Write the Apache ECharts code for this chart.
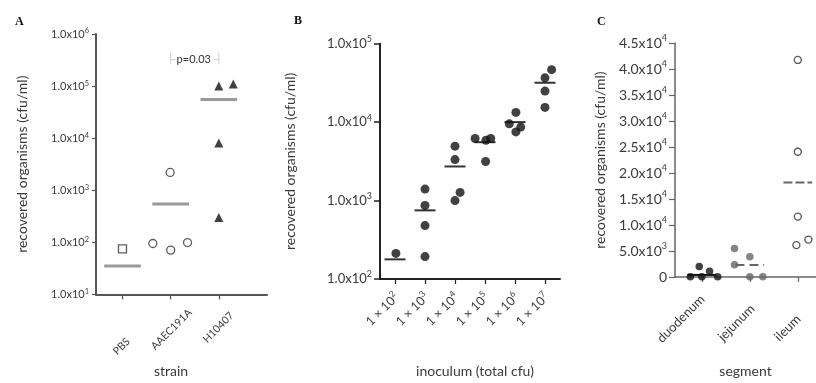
<!DOCTYPE html>
<html><head><meta charset="utf-8">
<script src="https://cdn.jsdelivr.net/npm/echarts@6.0.0/dist/echarts.min.js"></script>
<style>html,body{margin:0;padding:0;background:#fff}#c{width:816px;height:383px}</style>
</head><body><div id="c"></div>
<script>
// ---------------- DATA ----------------
// Panel A : strain
const strainCategories = ['PBS', 'AAEC191A', 'H10407'];
const pbsX = [1.0];
const pbsValues = [75];
const aaecX = [1.63, 2.0, 2.35, 1.99];
const aaecValues = [95, 71, 99, 2200];
const h10407X = [3.0, 3.3, 3.0, 3.0];
const h10407Values = [100000, 110000, 8100, 300];
const strainMeans = [35, 545, 55000];
const pValueText = 'p=0.03';
const pBracketX = [2, 3];
const pBracketY = [4.4e5, 3.2e5, 2.6e5];

// Panel B : inoculum
const inoculumExponents = [2, 3, 4, 5, 6, 7];
const inoculumX = [[1.03], [2, 2, 2, 2], [3, 3, 3, 3.17], [3.67, 4.03, 4.19, 4.02], [5.03, 4.81, 5.19, 5.03], [6.22, 6, 6, 6]];
const inoculumValues = [[212], [1400, 865, 480, 193], [4940, 3330, 1000, 1270], [6180, 5880, 6180, 3150], [13300, 9520, 8650, 7500], [46700, 36700, 24900, 15400]];
const inoculumMeans = [178, 750, 2720, 5550, 10000, 31800];

// Panel C : segment
const segmentCategories = ['duodenum', 'jejunum', 'ileum'];
const duodenumX = [0.76, 0.945, 1.0, 1.16, 1.33];
const duodenumValues = [50, 2000, 50, 1100, 50];
const jejunumX = [1.68, 1.68, 2.0, 2.0, 2.27];
const jejunumValues = [5490, 2350, 3920, 50, 50];
const ileumX = [3.0, 3.0, 3.0, 2.97, 3.22];
const ileumValues = [41800, 24130, 11630, 6140, 7200];
const segmentMeans = [400, 2300, 18200];

// ---------------- STYLE / LAYOUT ----------------
const FONT = 'Lato';
const TXT = '#3a3a3a';
const C45 = Math.SQRT1_2;
// label centre offset (dx,dy) from tick/axis -> padding for centred 45deg label
function padFor(dx, dy) {
  const a = (dx - dy) / (2 * C45), b = (dx + dy) / (2 * C45);
  return [b > 0 ? 2 * b : 0, a < 0 ? -2 * a : 0, b < 0 ? -2 * b : 0, a > 0 ? 2 * a : 0];
}
const aLabelOffsets = [[-1, 52], [0.8, 35], [-0.5, 33]];
const cLabelOffsets = [[-21, 41.8], [-13.4, 45.8], [-10.2, 51]];
const bLabelOffset = [-12.5, 30.5];

function zip(xs, ys) { return xs.map((x, i) => [x, ys[i]]); }
function sciLabel(v) {
  if (v === 0) return '{b|0}';
  const e = Math.floor(Math.log10(v) + 1e-9);
  const m = v / Math.pow(10, e);
  return '{b|' + m.toFixed(1) + 'x10}{s|' + e + '}';
}
function supRich(size, supSize, lh) {
  return {
    b: { fontSize: size, fontFamily: FONT, color: TXT, lineHeight: lh },
    s: { fontSize: supSize, fontFamily: FONT, color: TXT, lineHeight: supSize + 1, verticalAlign: 'top' }
  };
}
function meanSeries(xi, yi, means, hw, styles) {
  return {
    type: 'custom', xAxisIndex: xi, yAxisIndex: yi, silent: true, z: 1,
    data: means.map((m, i) => [i + 1, m]),
    renderItem: (params, api) => {
      const x = api.value(0), y = api.value(1);
      const p1 = api.coord([x - hw, y]), p2 = api.coord([x + hw, y]);
      return { type: 'line', shape: { x1: p1[0], y1: p1[1], x2: p2[0], y2: p2[1] }, style: styles[params.dataIndex] };
    }
  };
}
function catXAxis(gi, min, max, cats, labelCfg, axisColor, lw, name, nameGap, namePad) {
  return Object.assign({
    type: 'value', gridIndex: gi, min: min, max: max,
    splitLine: { show: false },
    axisLine: { show: true, onZero: false, lineStyle: { color: axisColor, width: lw } },
    axisTick: { show: true, length: 5, customValues: [1, 2, 3, 4, 5, 6].slice(0, cats), lineStyle: { color: axisColor, width: 1.2 } },
    name: name, nameLocation: 'middle', nameGap: nameGap,
    nameTextStyle: { fontFamily: FONT, fontSize: 14, color: TXT, padding: namePad }
  }, { axisLabel: labelCfg });
}

const chart = echarts.init(document.getElementById('c'), null, { renderer: 'canvas' });

const aRich = {}; strainCategories.forEach((c, i) => {
  aRich['a' + i] = { fontSize: 10.5, fontFamily: FONT, color: TXT, padding: padFor(aLabelOffsets[i][0], aLabelOffsets[i][1]) };
});
const cRich = {}; segmentCategories.forEach((c, i) => {
  cRich['c' + i] = { fontSize: 13, fontFamily: FONT, color: TXT, padding: padFor(cLabelOffsets[i][0], cLabelOffsets[i][1]) };
});

const option = {
  animation: false,
  backgroundColor: '#fff',
  title: [
    { text: 'A', left: 10, top: 11, textStyle: { fontFamily: 'Liberation Serif', fontWeight: 'bold', fontSize: 12, color: '#111' } },
    { text: 'B', left: 289, top: 10, textStyle: { fontFamily: 'Liberation Serif', fontWeight: 'bold', fontSize: 12, color: '#111' } },
    { text: 'C', left: 592, top: 11, textStyle: { fontFamily: 'Liberation Serif', fontWeight: 'bold', fontSize: 12, color: '#111' } }
  ],
  grid: [
    { left: 96, top: 34, width: 171, height: 267 },
    { left: 380, top: 43.7, width: 180, height: 239 },
    { left: 675, top: 43.3, width: 144, height: 237.4 }
  ],
  xAxis: [
    catXAxis(0, 0.45, 4.0, 3, {
      customValues: [1, 2, 3], rotate: 45, margin: 0, align: 'center', verticalAlign: 'middle',
      showMinLabel: true, showMaxLabel: true,
      formatter: v => '{a' + (v - 1) + '|' + strainCategories[v - 1] + '}', rich: aRich
    }, '#555', 2, 'strain', 66, [0, 21, 0, 0]),
    catXAxis(1, 0.5, 6.5, 6, {
      customValues: [1, 2, 3, 4, 5, 6], rotate: 45, margin: 0, align: 'center', verticalAlign: 'middle',
      showMinLabel: true, showMaxLabel: true, padding: padFor(bLabelOffset[0], bLabelOffset[1]),
      formatter: v => '{b|1 × 10}{s|' + inoculumExponents[v - 1] + '}', rich: supRich(12.5, 8.5, 17)
    }, '#222', 2, 'inoculum (total cfu)', 85, [0, 0, 0, 10]),
    catXAxis(2, 0.44, 3.379, 3, {
      customValues: [1, 2, 3], rotate: 45, margin: 0, align: 'center', verticalAlign: 'middle',
      showMinLabel: true, showMaxLabel: true,
      formatter: v => '{c' + (v - 1) + '|' + segmentCategories[v - 1] + '}', rich: cRich
    }, '#666', 1.5, 'segment', 87, [0, 0, 0, 0])
  ],
  yAxis: [
    {
      type: 'log', logBase: 10, gridIndex: 0, min: 10, max: 1e6, splitLine: { show: false },
      axisLine: { show: true, onZero: false, lineStyle: { color: '#555', width: 2 } },
      axisTick: { show: true, length: 4, lineStyle: { color: '#555', width: 1.2 } },
      axisLabel: { margin: 7, formatter: v => sciLabel(v), rich: supRich(11, 7.5, 14) },
      name: 'recovered organisms (cfu/ml)', nameLocation: 'middle', nameGap: 67,
      nameTextStyle: { fontFamily: FONT, fontSize: 14, color: TXT }
    },
    {
      type: 'log', logBase: 10, gridIndex: 1, min: 100, max: 1e5, splitLine: { show: false },
      axisLine: { show: true, onZero: false, lineStyle: { color: '#222', width: 2 } },
      axisTick: { show: true, length: 6, lineStyle: { color: '#222', width: 1.5 } },
      axisLabel: { margin: 8, formatter: v => sciLabel(v), rich: supRich(13, 9, 18) },
      name: 'recovered organisms (cfu/ml)', nameLocation: 'middle', nameGap: 83,
      nameTextStyle: { fontFamily: FONT, fontSize: 14, color: TXT }
    },
    {
      type: 'value', gridIndex: 2, min: 0, max: 45000, interval: 5000, splitLine: { show: false },
      axisLine: { show: true, onZero: false, lineStyle: { color: '#666', width: 1.5 } },
      axisTick: { show: true, length: 6, lineStyle: { color: '#666', width: 1.2 } },
      axisLabel: { margin: 8, formatter: v => sciLabel(v), rich: supRich(14, 9, 19) },
      name: 'recovered organisms (cfu/ml)', nameLocation: 'middle', nameGap: 68,
      nameTextStyle: { fontFamily: FONT, fontSize: 14, color: TXT }
    }
  ],
  series: [
    // Panel A
    meanSeries(0, 0, strainMeans, 0.38, strainMeans.map(() => ({ stroke: '#9a9a9a', lineWidth: 3 }))),
    { type: 'scatter', xAxisIndex: 0, yAxisIndex: 0, symbol: 'rect', symbolSize: 8, data: zip(pbsX, pbsValues),
      itemStyle: { color: '#fff', borderColor: '#333', borderWidth: 1.3 } },
    { type: 'scatter', xAxisIndex: 0, yAxisIndex: 0, symbol: 'circle', symbolSize: 8, data: zip(aaecX, aaecValues),
      itemStyle: { color: '#fff', borderColor: '#333', borderWidth: 1.3 } },
    { type: 'scatter', xAxisIndex: 0, yAxisIndex: 0, symbol: 'triangle', symbolSize: 9, data: zip(h10407X, h10407Values),
      itemStyle: { color: '#111' } },
    {
      type: 'custom', xAxisIndex: 0, yAxisIndex: 0, silent: true, data: [[pBracketX[0], pBracketY[1]]],
      renderItem: (params, api) => {
        const l1 = api.coord([pBracketX[0], pBracketY[0]]), l2 = api.coord([pBracketX[0], pBracketY[2]]);
        const r1 = api.coord([pBracketX[1], pBracketY[0]]), r2 = api.coord([pBracketX[1], pBracketY[2]]);
        const m = api.coord([(pBracketX[0] + pBracketX[1]) / 2, pBracketY[1]]);
        const st = { stroke: '#cfcfcf', lineWidth: 1 };
        return { type: 'group', children: [
          { type: 'line', shape: { x1: l1[0], y1: l1[1], x2: l2[0], y2: l2[1] }, style: st },
          { type: 'line', shape: { x1: r1[0], y1: r1[1], x2: r2[0], y2: r2[1] }, style: st },
          { type: 'line', shape: { x1: l1[0], y1: m[1], x2: l1[0] + 5, y2: m[1] }, style: st },
          { type: 'line', shape: { x1: r1[0] - 5, y1: m[1], x2: r1[0], y2: m[1] }, style: st },
          { type: 'text', x: m[0] - 1, y: m[1], style: { text: pValueText, align: 'center', verticalAlign: 'middle', fontSize: 11, fontFamily: FONT, fill: '#333' } }
        ] };
      }
    },
    // Panel B
    meanSeries(1, 1, inoculumMeans, 0.35, inoculumMeans.map(() => ({ stroke: '#333', lineWidth: 2 }))),
    { type: 'scatter', xAxisIndex: 1, yAxisIndex: 1, symbol: 'circle', symbolSize: 9,
      data: inoculumX.flatMap((xs, g) => zip(xs, inoculumValues[g])), itemStyle: { color: '#111' } },
    // Panel C
    meanSeries(2, 2, segmentMeans, 0.3, [
      { stroke: '#111', lineWidth: 2 },
      { stroke: '#666', lineWidth: 2, lineDash: [9, 5] },
      { stroke: '#666', lineWidth: 2, lineDash: [9, 3] }
    ]),
    { type: 'scatter', xAxisIndex: 2, yAxisIndex: 2, symbol: 'circle', symbolSize: 7.5, data: zip(duodenumX, duodenumValues), itemStyle: { color: '#111' } },
    { type: 'scatter', xAxisIndex: 2, yAxisIndex: 2, symbol: 'circle', symbolSize: 7.5, data: zip(jejunumX, jejunumValues), itemStyle: { color: '#666' } },
    { type: 'scatter', xAxisIndex: 2, yAxisIndex: 2, symbol: 'circle', symbolSize: 7, data: zip(ileumX, ileumValues),
      itemStyle: { color: '#fff', borderColor: '#333', borderWidth: 1.4 } }
  ]
};
chart.setOption(option);
</script>
</body></html>
